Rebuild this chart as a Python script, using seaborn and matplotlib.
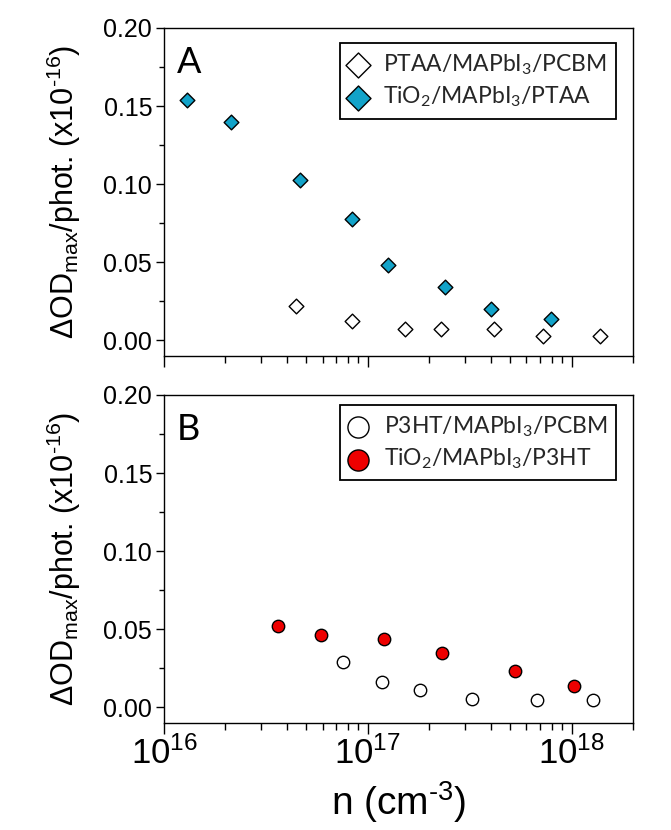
import numpy as np
import pandas as pd
import seaborn as sns
import matplotlib
matplotlib.use("Agg")
import matplotlib.pyplot as plt
from matplotlib.ticker import (FixedLocator, LogLocator, FormatStrFormatter,
                               LogFormatterSciNotation, NullFormatter, MultipleLocator)

# ---- data: carrier density n (cm^-3) vs. dOD_max per photon (x1e-16) ----
ptaa_pcbm_n = [4.46e16, 8.34e16, 1.53e17, 2.28e17, 4.16e17, 7.25e17, 1.37e18]
ptaa_pcbm_od = [0.022, 0.0125, 0.007, 0.007, 0.0072, 0.0025, 0.003]

tio2_ptaa_n = [1.30e16, 2.14e16, 4.67e16, 8.37e16, 1.25e17, 2.39e17, 4.03e17, 7.88e17]
tio2_ptaa_od = [0.154, 0.140, 0.103, 0.078, 0.048, 0.034, 0.020, 0.014]

p3ht_pcbm_n = [7.57e16, 1.17e17, 1.80e17, 3.24e17, 6.73e17, 1.27e18]
p3ht_pcbm_od = [0.029, 0.016, 0.011, 0.0056, 0.005, 0.0045]

tio2_p3ht_n = [3.64e16, 5.92e16, 1.20e17, 2.30e17, 5.30e17, 1.03e18]
tio2_p3ht_od = [0.052, 0.0465, 0.0435, 0.035, 0.023, 0.0135]

labels_a = ["PTAA/MAPbI$\\mathregular{_3}$/PCBM", "TiO$\\mathregular{_2}$/MAPbI$\\mathregular{_3}$/PTAA"]
labels_b = ["P3HT/MAPbI$\\mathregular{_3}$/PCBM", "TiO$\\mathregular{_2}$/MAPbI$\\mathregular{_3}$/P3HT"]
panel_letters = ["A", "B"]

x_ticks = [1e16, 1e17, 1e18]
y_ticks = [0.00, 0.05, 0.10, 0.15, 0.20]

HY = "\u2010"  # short hyphen for superscript exponents
y_label = "ΔOD$\\mathregular{_{max}}$/phot. (x10$\\mathregular{^{" + HY + "16}}$)"
x_label = "n (cm$\\mathregular{^{" + HY + "3}}$)"

# ---- style ----
sns.set_style("ticks")
SANS = ["Liberation Sans", "DejaVu Sans"]
NARROW = ["Liberation Sans Narrow", "Liberation Sans", "DejaVu Sans"]
LEG = ["Lato", "DejaVu Sans"]
plt.rcParams["font.family"] = SANS
plt.rcParams["mathtext.fontset"] = "custom"
plt.rcParams["mathtext.rm"] = "Liberation Sans"
plt.rcParams["mathtext.it"] = "Liberation Sans:italic"
plt.rcParams["axes.unicode_minus"] = False

W, H = 671, 830
fig = plt.figure(figsize=(W / 100, H / 100), dpi=100)

ax_left, ax_right = 164, 633
rows = [(28, 356), (395, 723)]
axes = []
for top, bot in rows:
    axes.append(fig.add_axes([ax_left / W, 1 - bot / H, (ax_right - ax_left) / W, (bot - top) / H]))

teal = "#12A3C9"
red = "#EE0000"

def series(ax, n, od, marker, face, size, label):
    df = pd.DataFrame({"n": n, "od": od})
    sns.scatterplot(data=df, x="n", y="od", ax=ax, marker=marker, s=size,
                    color=face, edgecolor="black", linewidth=1.0, label=label,
                    zorder=3, legend=False)

series(axes[0], ptaa_pcbm_n, ptaa_pcbm_od, "D", "white", 56, labels_a[0])
series(axes[0], tio2_ptaa_n, tio2_ptaa_od, "D", teal, 56, labels_a[1])
series(axes[1], p3ht_pcbm_n, p3ht_pcbm_od, "o", "white", 80, labels_b[0])
series(axes[1], tio2_p3ht_n, tio2_p3ht_od, "o", red, 80, labels_b[1])

legend_tops = [0.954, 0.970]
for i, ax in enumerate(axes):
    ax.set_xscale("log")
    ax.set_xlim(1e16, 2e18)
    ax.set_ylim(-0.01, 0.20)
    ax.xaxis.set_major_locator(FixedLocator(x_ticks))
    ax.xaxis.set_minor_locator(LogLocator(base=10, subs=np.arange(2, 10)))
    ax.xaxis.set_minor_formatter(NullFormatter())
    ax.yaxis.set_major_locator(FixedLocator(y_ticks))
    ax.yaxis.set_minor_locator(MultipleLocator(0.025))
    ax.yaxis.set_major_formatter(FormatStrFormatter("%.2f"))
    ax.xaxis.set_major_formatter(LogFormatterSciNotation())
    for sp in ax.spines.values():
        sp.set_visible(True)
        sp.set_linewidth(1.0)
        sp.set_color("black")
    ax.tick_params(which="both", direction="out", top=False, right=False,
                   color="black", width=1.0)
    ax.tick_params(axis="y", which="major", length=6, pad=2.5, labelsize=18,
                   labelcolor="black")
    ax.tick_params(axis="y", which="minor", length=3.5)
    ax.tick_params(axis="x", which="major", length=8, pad=1.5, labelsize=25,
                   labelfontfamily=NARROW, labelcolor="black")
    ax.tick_params(axis="x", which="minor", length=4.8)
    ax.set_xlabel("")
    ax.set_ylabel(y_label, fontsize=22, color="black")
    ax.yaxis.set_label_coords(-0.172, 0.5)

    ax.text(0.028, 0.945, panel_letters[i], transform=ax.transAxes, ha="left",
            va="top", fontsize=26, family=LEG, color="black")

    handles, labs = ax.get_legend_handles_labels()
    leg = ax.legend(handles, labs, loc="upper right",
                    bbox_to_anchor=(0.964, legend_tops[i]), borderaxespad=0,
                    frameon=True, fancybox=False, framealpha=1, edgecolor="black",
                    prop={"family": LEG, "size": 16.5}, markerscale=1.7,
                    handlelength=0.8, handletextpad=0.7, borderpad=0.4,
                    labelspacing=0.35)
    leg.get_frame().set_linewidth(1.3)

axes[0].tick_params(axis="x", labelbottom=False)
axes[1].set_xlabel(x_label, fontsize=28, family=NARROW, color="black")
axes[1].xaxis.set_label_coords(0.5, -0.172)

fig.savefig("out.png", dpi=100, facecolor="white")
